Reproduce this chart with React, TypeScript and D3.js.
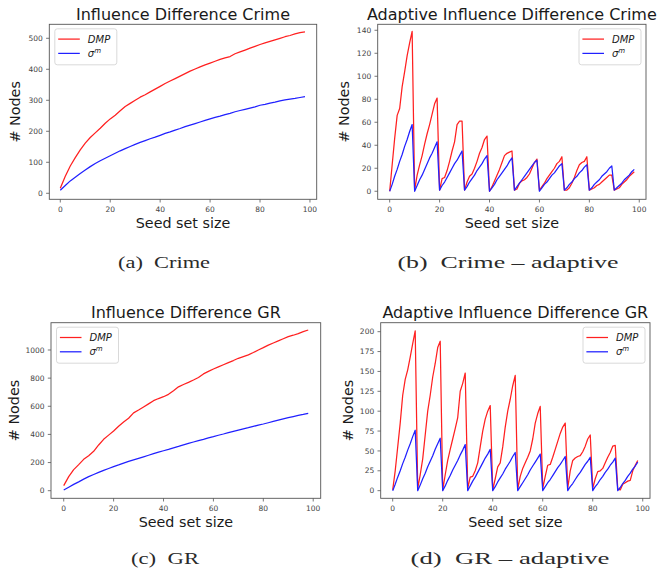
import React from "react";
import * as d3 from "d3";

// ---------- data ----------
const seedsStep2 = d3.range(0, 100, 2);
const seedsAll = d3.range(0, 99);

const crimeDMP = [16, 55, 88, 115, 140, 162, 180, 195, 210, 226, 240, 252, 266, 280, 290, 300, 310, 318, 327, 336, 345, 354, 362, 370, 378, 386, 394, 401, 408, 414, 420, 426, 432, 437, 441, 450, 456, 462, 468, 474, 480, 485, 490, 495, 500, 505, 509, 514, 518, 521];
const crimeSigma = [10, 25, 40, 52, 64, 75, 86, 96, 105, 113, 121, 129, 137, 144, 151, 158, 164, 170, 176, 181, 187, 193, 198, 204, 209, 215, 220, 225, 230, 235, 240, 245, 249, 254, 258, 263, 267, 271, 275, 279, 284, 287, 291, 294, 298, 301, 304, 306, 309, 312];

const grDMP = [36, 100, 150, 185, 223, 249, 280, 325, 365, 395, 424, 458, 488, 515, 553, 573, 595, 617, 640, 655, 668, 685, 710, 738, 755, 770, 787, 805, 830, 848, 865, 880, 895, 910, 925, 941, 953, 965, 982, 1000, 1017, 1035, 1050, 1065, 1080, 1095, 1105, 1116, 1130, 1142];
const grSigma = [5, 25, 45, 63, 82, 100, 115, 130, 145, 158, 171, 183, 196, 208, 219, 230, 241, 252, 263, 274, 284, 294, 305, 315, 326, 336, 346, 356, 365, 375, 384, 394, 403, 413, 422, 431, 440, 448, 457, 466, 474, 483, 492, 501, 510, 519, 527, 535, 542, 550];

const crimeAdaptiveDMP = [
  0, 23, 46, 66, 72, 91, 104, 118, 129, 139,
  1, 14, 23, 31, 41, 50, 58, 67, 76, 81,
  1, 11, 12, 18, 26, 35, 43, 58, 61, 61,
  1, 8, 13, 15, 20, 26, 33, 38, 45, 48,
  0, 4, 9, 14, 19, 25, 31, 33, 34, 35,
  1, 2, 7, 9, 10, 12, 15, 20, 25, 28,
  1, 4, 7, 11, 14, 17, 20, 24, 26, 30,
  1, 1, 3, 7, 12, 18, 23, 25, 26, 30,
  1, 2, 3, 5, 6, 8, 10, 12, 14, 14,
  1, 2, 3, 6, 8, 10, 13, 15, 17,
];
const crimeAdaptiveSigma = [
  0, 6, 13, 19, 26, 32, 39, 45, 52, 58,
  0, 5, 10, 14, 19, 24, 29, 33, 38, 43,
  1, 5, 8, 12, 16, 20, 24, 27, 31, 35,
  1, 4, 8, 11, 14, 18, 21, 24, 28, 31,
  0, 3, 6, 10, 13, 16, 19, 22, 26, 29,
  1, 4, 7, 10, 13, 16, 19, 22, 25, 27,
  0, 3, 6, 8, 11, 14, 16, 19, 22, 24,
  1, 3, 6, 8, 11, 13, 16, 18, 21, 23,
  1, 3, 6, 8, 10, 13, 15, 17, 20, 22,
  1, 3, 5, 7, 10, 12, 14, 17, 19,
];

const grAdaptiveDMP = [
  1, 25, 55, 85, 120, 140, 152, 168, 185, 201,
  3, 20, 40, 70, 100, 120, 143, 160, 180, 188,
  1, 20, 38, 52, 65, 78, 92, 125, 135, 148,
  3, 17, 18, 25, 35, 55, 75, 90, 100, 107,
  1, 15, 30, 35, 55, 80, 100, 115, 132, 145,
  2, 18, 28, 35, 42, 50, 65, 85, 97, 106,
  3, 18, 32, 33, 42, 52, 62, 72, 80, 85,
  3, 25, 38, 41, 43, 44, 49, 56, 65, 70,
  3, 15, 24, 25, 28, 35, 42, 48, 56, 57,
  2, 1, 8, 10, 12, 13, 25, 32, 38,
];
const grAdaptiveSigma = [
  0, 8, 17, 25, 34, 42, 51, 59, 68, 76,
  0, 7, 15, 22, 30, 37, 44, 52, 59, 66,
  0, 6, 13, 19, 26, 32, 38, 45, 51, 58,
  0, 6, 12, 17, 23, 29, 35, 41, 46, 52,
  0, 5, 11, 16, 21, 27, 32, 37, 43, 48,
  0, 5, 10, 15, 20, 26, 31, 36, 41, 46,
  0, 5, 10, 14, 19, 24, 29, 33, 38, 43,
  0, 5, 9, 14, 19, 23, 28, 33, 37, 42,
  0, 5, 9, 14, 18, 23, 27, 32, 36, 41,
  0, 4, 9, 13, 18, 22, 27, 31, 36,
];

const xTicks = [0, 20, 40, 60, 80, 100];
const yTicksCrime = [0, 100, 200, 300, 400, 500];
const yTicksCrimeAdaptive = [0, 20, 40, 60, 80, 100, 120, 140];
const yTicksGR = [0, 200, 400, 600, 800, 1000];
const yTicksGRAdaptive = [0, 25, 50, 75, 100, 125, 150, 175, 200];

const titles = [
  "Influence Difference Crime",
  "Adaptive Influence Difference Crime",
  "Influence Difference GR",
  "Adaptive Influence Difference GR",
];
const captions = ["(a)  Crime", "(b)  Crime \u2013 adaptive", "(c)  GR", "(d)  GR \u2013 adaptive"];
const xLabel = "Seed set size";
const yLabel = "# Nodes";

// ---------- layout ----------
type Box = { l: number; r: number; t: number; b: number };
type PanelCfg = {
  box: Box;
  xDomain: [number, number];
  yDomain: [number, number];
  yTicks: number[];
  xs: number[];
  red: number[];
  blue: number[];
  title: string;
  legend: "left" | "right";
  yLabelX: number;
  caption: string;
  capX: number;
  capY: number;
  capW: number;
};

const panels: PanelCfg[] = [
  {
    box: { l: 49.3, r: 316.7, t: 24.3, b: 199.3 },
    xDomain: [-4.4, 102.7], yDomain: [-19.4, 545.1], yTicks: yTicksCrime,
    xs: seedsStep2, red: crimeDMP, blue: crimeSigma, title: titles[0], legend: "left",
    yLabelX: 15, caption: captions[0], capX: 164, capY: 267.5, capW: 92,
  },
  {
    box: { l: 377.7, r: 646, t: 24.3, b: 199.3 },
    xDomain: [-4.8, 102.7], yDomain: [-7, 145.2], yTicks: yTicksCrimeAdaptive,
    xs: seedsAll, red: crimeAdaptiveDMP, blue: crimeAdaptiveSigma, title: titles[1], legend: "right",
    yLabelX: 344, caption: captions[1], capX: 508, capY: 267.5, capW: 221,
  },
  {
    box: { l: 51, r: 320.7, t: 322.7, b: 498.3 },
    xDomain: [-5.1, 103], yDomain: [-54, 1194], yTicks: yTicksGR,
    xs: seedsStep2, red: grDMP, blue: grSigma, title: titles[2], legend: "left",
    yLabelX: 14, caption: captions[2], capX: 165, capY: 563.5, capW: 68,
  },
  {
    box: { l: 380.7, r: 650, t: 322.7, b: 498.3 },
    xDomain: [-4.8, 102.9], yDomain: [-9.6, 211.3], yTicks: yTicksGRAdaptive,
    xs: seedsAll, red: grAdaptiveDMP, blue: grAdaptiveSigma, title: titles[3], legend: "right",
    yLabelX: 347.5, caption: captions[3], capX: 510, capY: 563.5, capW: 199,
  },
];

const RED = "#ff2020";
const BLUE = "#2020ff";
const SPINE = "#555";
const SANS = "'DejaVu Sans', sans-serif";

function Panel({ p }: { p: PanelCfg }) {
  const { box } = p;
  const x = d3.scaleLinear().domain(p.xDomain).range([box.l, box.r]);
  const y = d3.scaleLinear().domain(p.yDomain).range([box.b, box.t]);
  const line = d3
    .line<number>()
    .x((_, i) => x(p.xs[i]))
    .y((d) => y(d));
  const cx = (box.l + box.r) / 2;
  const cy = (box.t + box.b) / 2;
  const lw = 62;
  const lh = 36;
  const lx = p.legend === "left" ? box.l + 5.5 : box.r - 5 - lw;
  const ly = box.t + 4.5;
  const clipId = `clip-${p.title.replace(/\s/g, "")}`;
  return (
    <g>
      <defs>
        <clipPath id={clipId}>
          <rect x={box.l} y={box.t} width={box.r - box.l} height={box.b - box.t} />
        </clipPath>
      </defs>
      <g clipPath={`url(#${clipId})`}>
        <path d={line(p.red) || ""} fill="none" stroke={RED} strokeWidth={1.25} strokeLinejoin="round" />
        <path d={line(p.blue) || ""} fill="none" stroke={BLUE} strokeWidth={1.25} strokeLinejoin="round" />
      </g>
      <rect x={box.l} y={box.t} width={box.r - box.l} height={box.b - box.t} fill="none" stroke={SPINE} strokeWidth={0.9} />
      {xTicks.map((t) => (
        <g key={`x${t}`}>
          <line x1={x(t)} x2={x(t)} y1={box.b} y2={box.b + 3.2} stroke={SPINE} strokeWidth={0.8} />
          <text x={x(t)} y={box.b + 12.7} textAnchor="middle" fontSize={7.5} fontFamily={SANS} fill="#444">
            {t}
          </text>
        </g>
      ))}
      {p.yTicks.map((t) => (
        <g key={`y${t}`}>
          <line x1={box.l - 3.2} x2={box.l} y1={y(t)} y2={y(t)} stroke={SPINE} strokeWidth={0.8} />
          <text x={box.l - 6.5} y={y(t)} dy="0.36em" textAnchor="end" fontSize={7.5} fontFamily={SANS} fill="#444">
            {t}
          </text>
        </g>
      ))}
      <text x={cx} y={box.t - 4.6} textAnchor="middle" fontSize={16} fontFamily={SANS} fill="#1a1a1a">
        {p.title}
      </text>
      <text x={cx} y={box.b + 29} textAnchor="middle" fontSize={14.3} fontFamily={SANS} fill="#1a1a1a">
        {xLabel}
      </text>
      <text
        transform={`translate(${p.yLabelX},${cy}) rotate(-90)`}
        dy="0.36em"
        textAnchor="middle"
        fontSize={14.3}
        fontFamily={SANS}
        fill="#1a1a1a"
      >
        {yLabel}
      </text>
      <g>
        <rect x={lx} y={ly} width={lw} height={lh} rx={2.5} fill="#fff" fillOpacity={0.8} stroke="#cfcfcf" strokeWidth={0.8} />
        <line x1={lx + 3.4} x2={lx + 25} y1={ly + 10.3} y2={ly + 10.3} stroke={RED} strokeWidth={1.25} />
        <line x1={lx + 3.4} x2={lx + 25} y1={ly + 24.6} y2={ly + 24.6} stroke={BLUE} strokeWidth={1.25} />
        <text x={lx + 33} y={ly + 10.3} dy="0.36em" fontSize={10} fontStyle="italic" fontFamily={SANS} fill="#1a1a1a">
          DMP
        </text>
        <text x={lx + 33} y={ly + 24.6} dy="0.36em" fontSize={10} fontStyle="italic" fontFamily={SANS} fill="#1a1a1a">
          {"\u03c3"}
          <tspan fontSize={7} dy={-4}>m</tspan>
        </text>
      </g>
      <text
        x={p.capX - p.capW / 2}
        y={p.capY}
        fontSize={17}
        fontFamily="'Liberation Serif', serif"
        fill="#2a2a2a"
        textLength={p.capW}
        lengthAdjust="spacingAndGlyphs"
        style={{ whiteSpace: "pre" }}
      >
        {p.caption}
      </text>
    </g>
  );
}

export default function App() {
  return (
    <svg
      width={659}
      height={570}
      viewBox="0 0 659 570"
      style={{ position: "absolute", left: 0, top: 0, background: "#fff" }}
    >
      <rect x={0} y={0} width={659} height={570} fill="#fff" />
      {panels.map((p) => (
        <Panel key={p.title} p={p} />
      ))}
    </svg>
  );
}
